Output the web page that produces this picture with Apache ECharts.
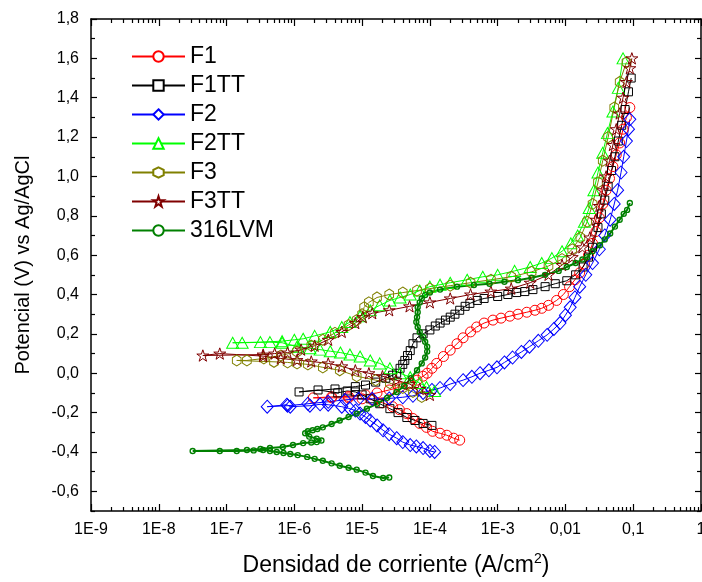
<!DOCTYPE html>
<html><head><meta charset="utf-8">
<script src="https://cdn.jsdelivr.net/npm/echarts@6/dist/echarts.min.js"></script>
<style>html,body{margin:0;padding:0;background:#fff}#c{width:702px;height:582px}</style>
</head><body><div id="c"></div>
<script>
// Data: [log10(current density A/cm2), potential V vs Ag/AgCl]
const F1 = [[-3.56,-0.34],[-3.65,-0.33],[-3.75,-0.315],[-3.85,-0.305],[-3.96,-0.295],[-4.05,-0.275],[-4.15,-0.255],[-4.25,-0.23],[-4.34,-0.205],[-4.45,-0.185],[-4.55,-0.17],[-4.7,-0.15],[-4.85,-0.135],[-5.0,-0.13],[-5.2,-0.125],[-5.45,-0.125],[-5.72,-0.125],
[-5.45,-0.12],[-5.2,-0.118],[-4.95,-0.11],[-4.78,-0.10],[-4.6,-0.085],[-4.44,-0.07],[-4.3,-0.05],[-4.19,-0.035],[-4.1,-0.015],[-4.04,0.0],[-3.97,0.025],[-3.9,0.05],[-3.8,0.085],[-3.7,0.117],[-3.6,0.15],[-3.51,0.18],[-3.4,0.21],[-3.31,0.235],[-3.2,0.255],[-3.07,0.27],[-2.95,0.28],[-2.82,0.29],[-2.7,0.3],[-2.57,0.31],[-2.45,0.32],[-2.35,0.33],[-2.25,0.345],[-2.13,0.37],[-2.03,0.40],[-1.94,0.44],[-1.86,0.475],[-1.79,0.51],[-1.72,0.555],[-1.66,0.6],[-1.6,0.66],[-1.55,0.72],[-1.5,0.79],[-1.45,0.86],[-1.4,0.93],[-1.35,0.99],[-1.3,1.05],[-1.25,1.11],[-1.2,1.17],[-1.15,1.24],[-1.1,1.3],[-1.05,1.35]];
const F1TT = [[-3.97,-0.265],[-4.1,-0.255],[-4.22,-0.24],[-4.34,-0.225],[-4.47,-0.2],[-4.59,-0.18],[-4.74,-0.155],[-4.88,-0.13],[-5.0,-0.11],[-5.1,-0.095],[-5.22,-0.09],[-5.36,-0.1],[-5.65,-0.085],[-5.93,-0.095],
[-5.4,-0.08],[-5.1,-0.068],[-4.95,-0.06],[-4.8,-0.045],[-4.65,-0.025],[-4.55,-0.01],[-4.49,0.0],[-4.44,0.025],[-4.4,0.045],[-4.37,0.065],[-4.33,0.09],[-4.29,0.115],[-4.25,0.15],[-4.19,0.18],[-4.1,0.2],[-4.0,0.22],[-3.92,0.24],[-3.85,0.255],[-3.77,0.27],[-3.7,0.285],[-3.63,0.3],[-3.56,0.32],[-3.48,0.34],[-3.41,0.355],[-3.3,0.37],[-3.2,0.38],[-3.0,0.39],[-2.85,0.4],[-2.72,0.41],[-2.6,0.415],[-2.48,0.425],[-2.3,0.44],[-2.15,0.455],[-1.98,0.47],[-1.85,0.5],[-1.74,0.54],[-1.66,0.59],[-1.6,0.64],[-1.52,0.74],[-1.47,0.81],[-1.42,0.88],[-1.37,0.95],[-1.32,1.03],[-1.27,1.1],[-1.22,1.18],[-1.17,1.26],[-1.12,1.34],[-1.07,1.43],[-1.03,1.5]];
const F2 = [[-3.93,-0.40],[-4.0,-0.395],[-4.1,-0.38],[-4.2,-0.372],[-4.29,-0.365],[-4.4,-0.35],[-4.49,-0.33],[-4.6,-0.31],[-4.69,-0.29],[-4.78,-0.265],[-4.88,-0.24],[-4.95,-0.222],[-5.03,-0.205],[-5.1,-0.19],[-5.18,-0.18],[-5.3,-0.17],[-5.5,-0.16],[-5.62,-0.158],[-5.77,-0.165],[-6.06,-0.17],[-6.11,-0.16],[-6.4,-0.17],
[-6.1,-0.165],[-5.8,-0.155],[-5.5,-0.145],[-5.25,-0.135],[-5.05,-0.13],[-4.85,-0.13],[-4.6,-0.128],[-4.4,-0.122],[-4.25,-0.115],[-4.1,-0.1],[-3.97,-0.085],[-3.85,-0.075],[-3.7,-0.055],[-3.51,-0.035],[-3.38,-0.018],[-3.26,0.0],[-3.13,0.015],[-3.01,0.03],[-2.9,0.055],[-2.78,0.08],[-2.65,0.108],[-2.53,0.135],[-2.4,0.165],[-2.27,0.195],[-2.17,0.225],[-2.08,0.255],[-2.0,0.295],[-1.93,0.335],[-1.86,0.385],[-1.79,0.44],[-1.7,0.5],[-1.6,0.56],[-1.5,0.63],[-1.42,0.7],[-1.34,0.78],[-1.28,0.86],[-1.23,0.93],[-1.18,1.02],[-1.14,1.1],[-1.1,1.18],[-1.07,1.24],[-1.05,1.29]];
const F2TT = [[-3.93,-0.09],[-4.05,-0.07],[-4.15,-0.05],[-4.29,-0.02],[-4.44,0.0],[-4.59,0.025],[-4.74,0.05],[-4.88,0.065],[-5.03,0.085],[-5.18,0.095],[-5.32,0.105],[-5.47,0.112],[-5.62,0.12],[-5.77,0.127],[-5.96,0.135],[-6.18,0.155],[-6.36,0.158],[-6.77,0.155],[-6.91,0.155],
[-6.5,0.158],[-6.18,0.163],[-6.0,0.17],[-5.87,0.175],[-5.7,0.19],[-5.47,0.21],[-5.3,0.235],[-5.18,0.26],[-5.03,0.29],[-4.88,0.32],[-4.74,0.345],[-4.59,0.37],[-4.44,0.385],[-4.29,0.40],[-4.15,0.42],[-4.0,0.44],[-3.85,0.45],[-3.7,0.46],[-3.45,0.475],[-3.22,0.49],[-3.0,0.50],[-2.75,0.52],[-2.52,0.54],[-2.35,0.56],[-2.2,0.585],[-2.05,0.62],[-1.92,0.66],[-1.82,0.70],[-1.72,0.77],[-1.65,0.84],[-1.58,0.93],[-1.52,1.02],[-1.45,1.12],[-1.38,1.22],[-1.3,1.33],[-1.22,1.45],[-1.15,1.6]];
const F3 = [[-4.12,-0.12],[-4.25,-0.095],[-4.4,-0.075],[-4.59,-0.05],[-4.8,-0.035],[-5.08,-0.015],[-5.33,0.015],[-5.58,0.03],[-5.8,0.045],[-5.96,0.05],[-6.1,0.055],[-6.3,0.058],[-6.85,0.065],
[-6.7,0.065],[-6.45,0.075],[-6.2,0.09],[-5.96,0.11],[-5.75,0.14],[-5.58,0.17],[-5.4,0.205],[-5.2,0.245],[-5.08,0.27],[-5.0,0.30],[-4.97,0.335],[-4.9,0.36],[-4.78,0.385],[-4.6,0.40],[-4.4,0.41],[-4.19,0.42],[-4.0,0.43],[-3.7,0.445],[-3.4,0.46],[-3.1,0.475],[-2.8,0.49],[-2.5,0.515],[-2.25,0.545],[-2.05,0.58],[-1.9,0.63],[-1.78,0.69],[-1.68,0.77],[-1.6,0.86],[-1.52,0.97],[-1.45,1.08],[-1.37,1.2],[-1.28,1.35],[-1.2,1.48],[-1.1,1.58]];
const F3TT = [[-4.0,-0.11],[-4.15,-0.08],[-4.3,-0.055],[-4.5,-0.035],[-4.7,-0.015],[-4.9,0.0],[-5.1,0.015],[-5.3,0.035],[-5.5,0.05],[-5.75,0.06],[-5.96,0.067],[-6.2,0.075],[-6.46,0.087],[-7.1,0.1],[-7.35,0.09],
[-6.46,0.095],[-6.29,0.1],[-6.1,0.105],[-5.9,0.12],[-5.7,0.14],[-5.5,0.17],[-5.3,0.21],[-5.1,0.255],[-4.99,0.285],[-4.85,0.305],[-4.6,0.32],[-4.3,0.34],[-4.0,0.36],[-3.7,0.38],[-3.4,0.40],[-3.1,0.415],[-2.8,0.43],[-2.52,0.46],[-2.25,0.5],[-2.05,0.55],[-1.9,0.59],[-1.75,0.64],[-1.64,0.69],[-1.55,0.78],[-1.5,0.85],[-1.45,0.93],[-1.4,1.0],[-1.35,1.08],[-1.3,1.16],[-1.25,1.24],[-1.2,1.32],[-1.15,1.4],[-1.1,1.48],[-1.05,1.55],[-1.02,1.6]];
const S316LVM = [[-4.6,-0.53],[-4.69,-0.532],[-4.84,-0.522],[-4.95,-0.505],[-5.08,-0.49],[-5.2,-0.48],[-5.33,-0.47],[-5.45,-0.458],[-5.58,-0.445],[-5.7,-0.435],[-5.81,-0.425],[-5.95,-0.416],[-6.06,-0.41],[-6.16,-0.405],[-6.26,-0.4],[-6.36,-0.395],[-6.46,-0.39],[-6.6,-0.392],[-6.85,-0.395],[-7.1,-0.395],[-7.5,-0.395],
[-6.7,-0.39],[-6.5,-0.385],[-6.36,-0.38],[-6.17,-0.375],[-6.02,-0.365],[-5.87,-0.355],[-5.75,-0.352],[-5.67,-0.35],[-5.6,-0.342],[-5.67,-0.332],[-5.78,-0.322],[-5.84,-0.305],[-5.8,-0.295],[-5.73,-0.29],[-5.66,-0.283],[-5.58,-0.275],[-5.45,-0.258],[-5.33,-0.24],[-5.2,-0.222],[-5.08,-0.205],[-4.93,-0.18],[-4.78,-0.155],[-4.63,-0.125],[-4.49,-0.095],[-4.38,-0.065],[-4.28,-0.025],[-4.19,0.015],[-4.12,0.05],[-4.07,0.08],[-4.04,0.11],[-4.04,0.135],[-4.07,0.16],[-4.1,0.185],[-4.15,0.21],[-4.18,0.235],[-4.2,0.26],[-4.19,0.285],[-4.18,0.31],[-4.18,0.335],[-4.15,0.36],[-4.12,0.38],[-4.07,0.397],[-4.0,0.41],[-3.85,0.425],[-3.6,0.44],[-3.35,0.448],[-3.12,0.455],[-2.9,0.465],[-2.7,0.473],[-2.5,0.485],[-2.3,0.5],[-2.1,0.52],[-1.98,0.54],[-1.85,0.56],[-1.75,0.578],[-1.68,0.59],[-1.6,0.62],[-1.49,0.65],[-1.42,0.68],[-1.34,0.71],[-1.27,0.745],[-1.2,0.78],[-1.14,0.81],[-1.09,0.83],[-1.05,0.865]];

const seriesNames = ['F1','F1TT','F2','F2TT','F3','F3TT','316LVM'];
const seriesData = [F1, F1TT, F2, F2TT, F3, F3TT, S316LVM];
const xMajorTicks = [1e-9,1e-8,1e-7,1e-6,1e-5,1e-4,1e-3,1e-2,1e-1,1];
const xTickLabels = ['1E-9','1E-8','1E-7','1E-6','1E-5','1E-4','1E-3','0,01','0,1','1'];
const yMajorTicks = [-0.6,-0.4,-0.2,0,0.2,0.4,0.6,0.8,1.0,1.2,1.4,1.6,1.8];
const yMinorTicks = [-0.7,-0.5,-0.3,-0.1,0.1,0.3,0.5,0.7,0.9,1.1,1.3,1.5,1.7];
const xMinorTicks = [];
for (let e = -9; e < 0; e++) for (let m = 2; m <= 9; m++) xMinorTicks.push(m * Math.pow(10, e));

const STAR = 'path://M50,0 L61.8,35.4 L100,35.4 L69.1,57.3 L80.9,95.1 L50,72.7 L19.1,95.1 L30.9,57.3 L0,35.4 L38.2,35.4 Z';
const HEX = 'path://M50,0 L93.3,25 L93.3,75 L50,100 L6.7,75 L6.7,25 Z';
const styles = [
  {color:'#ff0000', symbol:'circle', size:10},
  {color:'#000000', symbol:'rect', size:8},
  {color:'#0000ff', symbol:'diamond', size:[12,13]},
  {color:'#00ff00', symbol:'triangle', size:[12,11]},
  {color:'#808000', symbol:HEX, size:[10,11]},
  {color:'#800000', symbol:STAR, size:12},
  {color:'#008000', symbol:'circle', size:5}
];
const FONT = 'Liberation Sans, Arial, sans-serif';
const fmtX = v => { const i = xMajorTicks.findIndex(t => Math.abs(Math.log10(t) - Math.log10(v)) < 1e-6); return i >= 0 ? xTickLabels[i] : ''; };
const fmtY = v => v.toFixed(1).replace('.', ',');

const axisLineStyle = {color:'#000', width:1.5};
const tickStyle = {color:'#000', width:1.2};
const xBase = {type:'log', logBase:10, min:1e-9, max:1, splitLine:{show:false}, minorTick:{show:false}, minorSplitLine:{show:false}};
const yBase = {type:'value', min:-0.7, max:1.8, splitLine:{show:false}};

const chart = echarts.init(document.getElementById('c'), null, {renderer:'canvas'});
chart.setOption({
  animation:false,
  backgroundColor:'#fff',
  grid:{left:91, right:1, top:19, bottom:71, containLabel:false, outerBoundsMode:'none'},
  legend:{
    orient:'vertical', left:126, top:40, itemWidth:53, itemHeight:13, itemGap:6,
    data: seriesNames,
    itemStyle:{color:'#fff'},
    textStyle:{fontFamily:FONT, fontSize:23, color:'#000'}
  },
  xAxis:[
    Object.assign({}, xBase, {position:'bottom',
      axisLine:{show:true, onZero:false, lineStyle:axisLineStyle},
      axisTick:{show:true, inside:true, length:7, lineStyle:tickStyle, customValues:xMajorTicks},
      axisLabel:{show:true, customValues:xMajorTicks, formatter:fmtX, fontFamily:FONT, fontSize:16, color:'#000', margin:11},
      name:'{t|Densidad de corriente (A/cm}{s|2}{t|)}', nameLocation:'middle', nameGap:41,
      nameTextStyle:{rich:{t:{fontFamily:FONT, fontSize:23, color:'#000', lineHeight:27}, s:{fontFamily:FONT, fontSize:14, color:'#000', lineHeight:14, verticalAlign:'top'}}}
    }),
    Object.assign({}, xBase, {position:'bottom',
      axisLine:{show:false, onZero:false}, axisLabel:{show:false},
      axisTick:{show:true, inside:true, length:4, lineStyle:tickStyle, customValues:xMinorTicks}}),
    Object.assign({}, xBase, {position:'top',
      axisLine:{show:true, onZero:false, lineStyle:axisLineStyle}, axisLabel:{show:false},
      axisTick:{show:true, inside:true, length:7, lineStyle:tickStyle, customValues:xMajorTicks}}),
    Object.assign({}, xBase, {position:'top',
      axisLine:{show:false, onZero:false}, axisLabel:{show:false},
      axisTick:{show:true, inside:true, length:4, lineStyle:tickStyle, customValues:xMinorTicks}})
  ],
  yAxis:[
    Object.assign({}, yBase, {position:'left',
      axisLine:{show:true, onZero:false, lineStyle:axisLineStyle},
      axisTick:{show:true, inside:true, length:6, lineStyle:tickStyle, customValues:yMajorTicks},
      axisLabel:{show:true, customValues:yMajorTicks, formatter:fmtY, fontFamily:FONT, fontSize:16, color:'#000', margin:12},
      name:'Potencial (V) vs Ag/AgCl', nameLocation:'middle', nameGap:58, nameRotate:90,
      nameTextStyle:{fontFamily:FONT, fontSize:20, color:'#000'}
    }),
    Object.assign({}, yBase, {position:'left',
      axisLine:{show:false, onZero:false}, axisLabel:{show:false},
      axisTick:{show:true, inside:true, length:4, lineStyle:tickStyle, customValues:yMinorTicks}}),
    Object.assign({}, yBase, {position:'right',
      axisLine:{show:true, onZero:false, lineStyle:axisLineStyle}, axisLabel:{show:false},
      axisTick:{show:true, inside:true, length:6, lineStyle:tickStyle, customValues:yMajorTicks}}),
    Object.assign({}, yBase, {position:'right',
      axisLine:{show:false, onZero:false}, axisLabel:{show:false},
      axisTick:{show:true, inside:true, length:4, lineStyle:tickStyle, customValues:yMinorTicks}})
  ],
  series: seriesNames.map((name, k) => ({
    name, type:'line', xAxisIndex:0, yAxisIndex:0,
    data: seriesData[k].map(p => [Math.pow(10, p[0]), p[1]]),
    symbol: styles[k].symbol, symbolSize: styles[k].size, showSymbol:true, showAllSymbol:true,
    symbolKeepAspect:true,
    lineStyle:{color:styles[k].color, width: k === 6 ? 2 : 1},
    itemStyle:{color:'rgba(255,255,255,0)', borderColor:styles[k].color, borderWidth: k === 6 ? 1.4 : 1},
    emphasis:{disabled:true},
    clip:true
  }))
});
</script>
</body></html>
